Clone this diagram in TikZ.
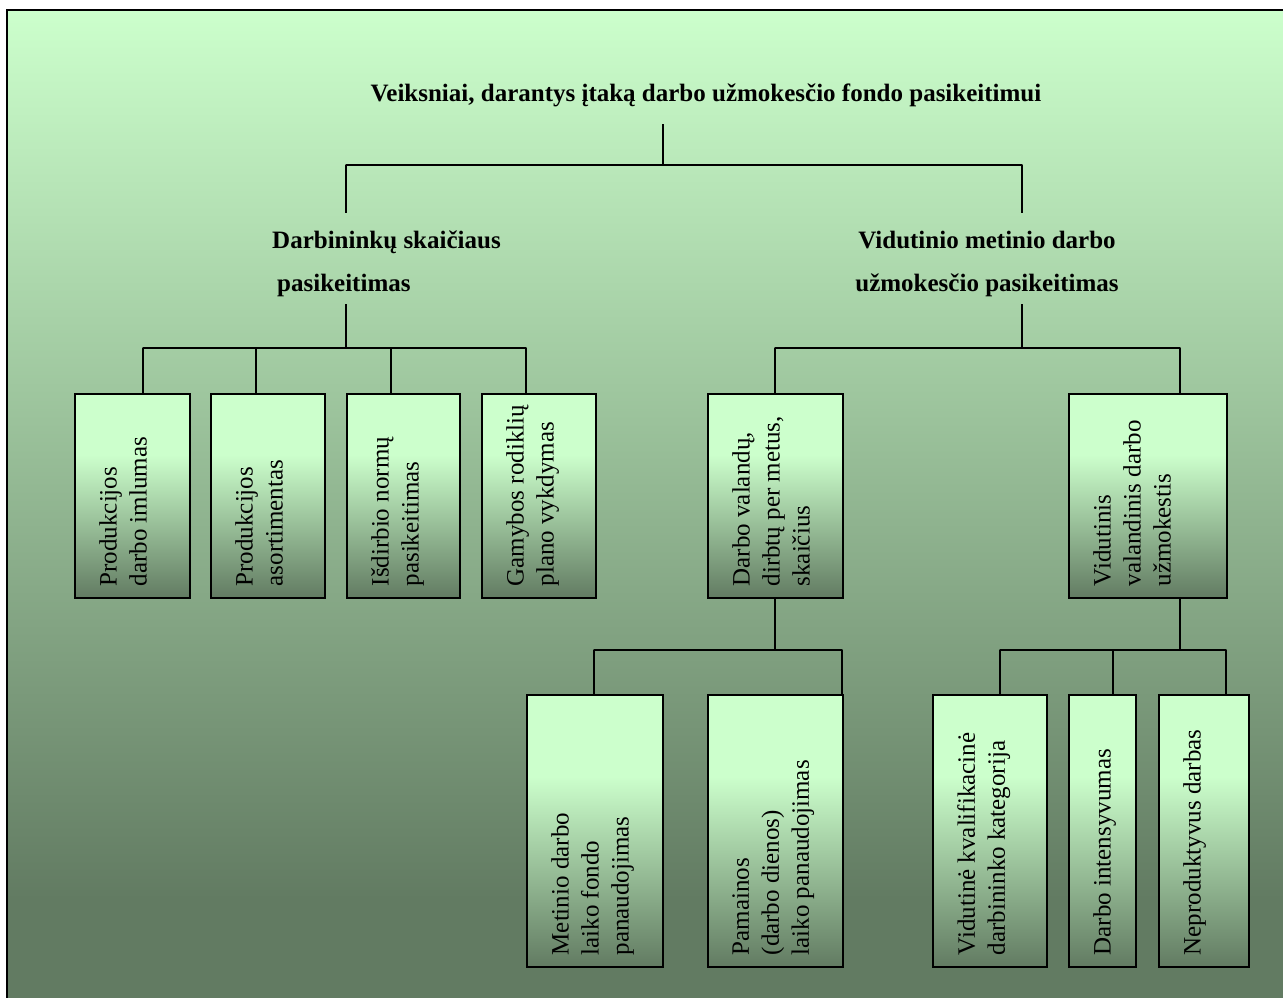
\documentclass[tikz,border=0pt]{standalone}
\usepackage{fontspec}
\setmainfont{Liberation Serif}
\usepackage{tkz-euclide}
\usetikzlibrary{calc}
\definecolor{LightClr}{RGB}{204,255,204}
\definecolor{DarkClr}{RGB}{98,123,98}
\pgfdeclareverticalshading{BgShade}{100bp}{color(0bp)=(DarkClr); color(30bp)=(DarkClr); color(75bp)=(LightClr); color(100bp)=(LightClr)}
\pgfdeclareverticalshading{BoxShade}{100bp}{color(0bp)=(DarkClr); color(25bp)=(DarkClr); color(60bp)=(LightClr); color(100bp)=(LightClr)}

\begin{document}
\begin{tikzpicture}[x=1pt,y=-1pt,
  conn/.style={line width=1.5pt,color=black},
  factor/.style={draw=black,line width=1.5pt,shading=BoxShade,anchor=north west,inner sep=0pt,minimum height=204pt},
  ftext/.style={rotate=90,anchor=north west,align=left,inner sep=0pt,font=\fontsize{25}{30}\selectfont},
  head/.style={font=\bfseries\fontsize{25}{43}\selectfont,inner sep=0pt}]
\useasboundingbox (0,0) rectangle (1283,998);

% background and frame
\shade[shading=BgShade] (7,10) rectangle (1283,998);
\draw[line width=2pt] (7,998) -- (7,10) -- (1283,10);

% headings
\node[head,anchor=base] (title) at (706,101) {Veiksniai, darantys įtaką darbo užmokesčio fondo pasikeitimui};
\node[head,align=left,anchor=north west] (midL) at (272,231) {Darbininkų skaičiaus\\\hspace*{5pt}pasikeitimas};
\node[head,align=center,anchor=north] (midR) at (987,231) {Vidutinio metinio darbo\\užmokesčio pasikeitimas};

% junctions
\tkzDefPoints{663/165/jT,346/165/jL,1022/165/jR,346/348/jLb,1022/348/jRb}
\tkzDefPoints{143/348/jF1,256/348/jF2,391/348/jF3,526/348/jF4,775/348/jV1,1180/348/jV2}
\tkzDefPoints{775/650/jVb,1180/650/jKb,594/650/jM1,842/650/jM2,1000/650/jK1,1113/650/jK2,1226/650/jK3}

% connectors
\draw[conn,shorten >=17pt] (jT) -- (jT |- title.south);
\draw[conn,shorten >=18pt] (jL) -- (jL |- midL.north);
\draw[conn,shorten >=18pt] (jR) -- (jR |- midR.north);
\draw[conn,shorten >=7pt] (jLb) -- (jLb |- midL.south);
\draw[conn,shorten >=7pt] (jRb) -- (jRb |- midR.south);
\tkzDrawSegments[conn](jL,jR jF1,jF4 jV1,jV2 jM1,jM2 jK1,jK3)

% first level
\node[factor,minimum width=115pt] (F1) at (74,393) {};
\node[factor,minimum width=114pt] (F2) at (210,393) {};
\node[factor,minimum width=113pt] (F3) at (346,393) {};
\node[factor,minimum width=114pt] (F4) at (481,393) {};
\node[factor,minimum width=135pt] (V1) at (707,393) {};
\node[factor,minimum width=158pt] (V2) at (1068,393) {};

% second level
\node[factor,minimum width=136pt,minimum height=272pt] (M1) at (526,694) {};
\node[factor,minimum width=135pt,minimum height=272pt] (M2) at (707,694) {};
\node[factor,minimum width=114pt,minimum height=272pt] (K1) at (932,694) {};
\node[factor,minimum width=67pt,minimum height=272pt] (K2) at (1068,694) {};
\node[factor,minimum width=90pt,minimum height=272pt] (K3) at (1158,694) {};

\foreach \n in {F1,F2,F3,F4,V1,V2,M1,M2,K1,K2,K3}
  \draw[conn] (j\n) -- (j\n |- \n.north);
\draw[conn] (V1.south -| jVb) -- (jVb);
\draw[conn] (V2.south -| jKb) -- (jKb);

% texts
\node[ftext] (tF1) at ([xshift=25pt,yshift=12pt]F1.south west) {Produkcijos\\darbo imlumas};
\node[ftext] (tF2) at ([xshift=25pt,yshift=12pt]F2.south west) {Produkcijos\\asortimentas};
\node[ftext] (tF3) at ([xshift=25pt,yshift=12pt]F3.south west) {Išdirbio normų\\pasikeitimas};
\node[ftext] (tF4) at ([xshift=25pt,yshift=12pt]F4.south west) {Gamybos rodiklių\\plano vykdymas};
\node[ftext] (tV1) at ([xshift=25pt,yshift=12pt]V1.south west) {Darbo valandų,\\dirbtų per metus,\\skaičius};
\node[ftext] (tV2) at ([xshift=25pt,yshift=12pt]V2.south west) {Vidutinis\\valandinis darbo\\užmokestis};
\node[ftext] (tM1) at ([xshift=25pt,yshift=12pt]M1.south west) {Metinio darbo\\laiko fondo\\panaudojimas};
\node[ftext] (tM2) at ([xshift=25pt,yshift=12pt]M2.south west) {Pamainos\\(darbo dienos)\\laiko panaudojimas};
\node[ftext] (tK1) at ([xshift=25pt,yshift=12pt]K1.south west) {Vidutinė kvalifikacinė\\darbininko kategorija};
\node[ftext] (tK2) at ([xshift=25pt,yshift=12pt]K2.south west) {Darbo intensyvumas};
\node[ftext] (tK3) at ([xshift=25pt,yshift=12pt]K3.south west) {Neproduktyvus darbas};

\end{tikzpicture}
\end{document}
